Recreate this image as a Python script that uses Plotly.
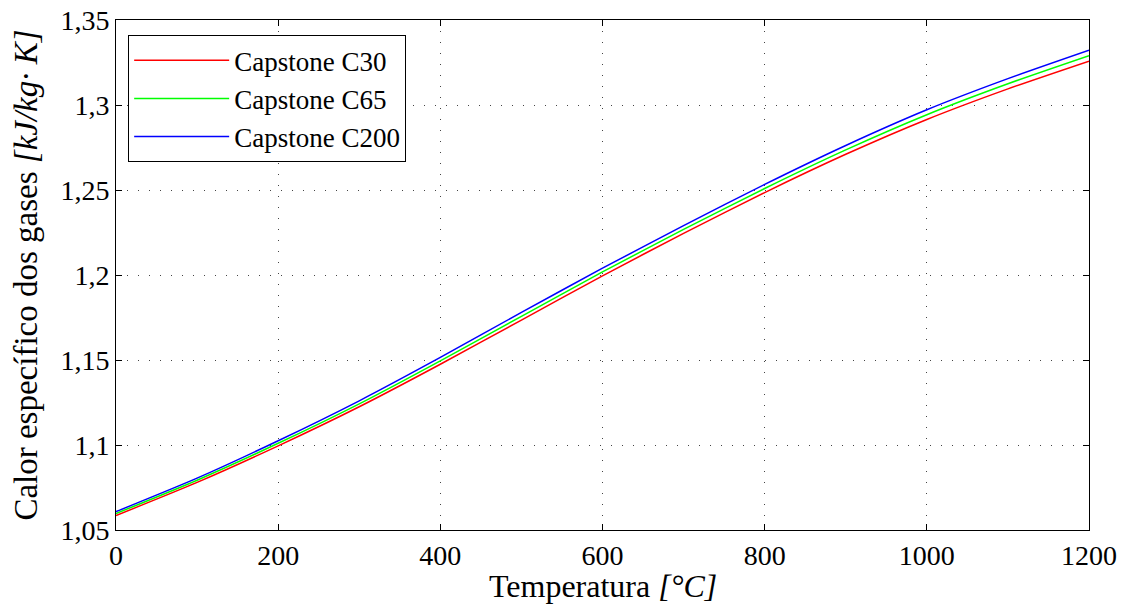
import plotly.graph_objects as go

temperatura = [0, 100, 200, 300, 400, 500, 600, 700, 800, 900, 1000, 1100, 1200]
c30 = [1.0585, 1.0780, 1.0995, 1.1225, 1.1475, 1.1735, 1.1995, 1.2245, 1.2485, 1.2710, 1.2915, 1.3095, 1.3258]
c65 = [1.0597, 1.0793, 1.1010, 1.1242, 1.1495, 1.1757, 1.2018, 1.2268, 1.2509, 1.2736, 1.2943, 1.3125, 1.3290]
c200 = [1.0608, 1.0805, 1.1025, 1.1260, 1.1515, 1.1780, 1.2040, 1.2290, 1.2533, 1.2762, 1.2972, 1.3155, 1.3322]

series_names = ["Capstone C30", "Capstone C65", "Capstone C200"]
series_colors = ["#ff0000", "#00ff00", "#0000ff"]

xticks = [0, 200, 400, 600, 800, 1000, 1200]
yticks = [1.05, 1.1, 1.15, 1.2, 1.25, 1.3, 1.35]
yticklabels = ["1,05", "1,1", "1,15", "1,2", "1,25", "1,3", "1,35"]

font = "Liberation Serif"

fig = go.Figure()
for name, vals, col in zip(series_names, [c30, c65, c200], series_colors):
    fig.add_trace(go.Scatter(x=temperatura, y=vals, mode="lines", name=name,
                             line=dict(color=col, width=1.5, shape="spline", smoothing=0.6)))

axis_common = dict(
    showline=True, linecolor="black", linewidth=1, mirror="ticks",
    ticks="inside", ticklen=6, tickcolor="black",
    showgrid=True, gridcolor="#444444", gridwidth=1, griddash="1px,10px",
    zeroline=False, automargin=False, ticklabeloverflow="allow",
    tickfont=dict(family=font, size=28, color="black"),
)

fig.update_layout(
    width=1125, height=604,
    margin=dict(l=108, r=44, t=12, b=82),
    paper_bgcolor="white", plot_bgcolor="white",
    font=dict(family=font, color="black"),
    xaxis=dict(range=[0, 1200], tickvals=xticks, **axis_common),
    yaxis=dict(range=[1.05, 1.35], tickvals=yticks, ticktext=yticklabels,
               title=dict(text="Calor específico dos gases <i>[kJ/kg· K]</i>", font=dict(family=font, size=33), standoff=12),
               **axis_common),
    legend=dict(x=0.0125, y=0.97, xanchor="left", yanchor="top",
                bordercolor="black", borderwidth=1, bgcolor="white",
                font=dict(family=font, size=27), tracegroupgap=0, itemwidth=95),
    showlegend=True,
)

fig.add_annotation(text="Temperatura <i>[°C]</i>", xref="paper", yref="paper",
                   x=0.5, y=0, xanchor="center", yanchor="top", yshift=-36,
                   showarrow=False, font=dict(family=font, size=32, color="black"))

fig.write_html("out.html")
